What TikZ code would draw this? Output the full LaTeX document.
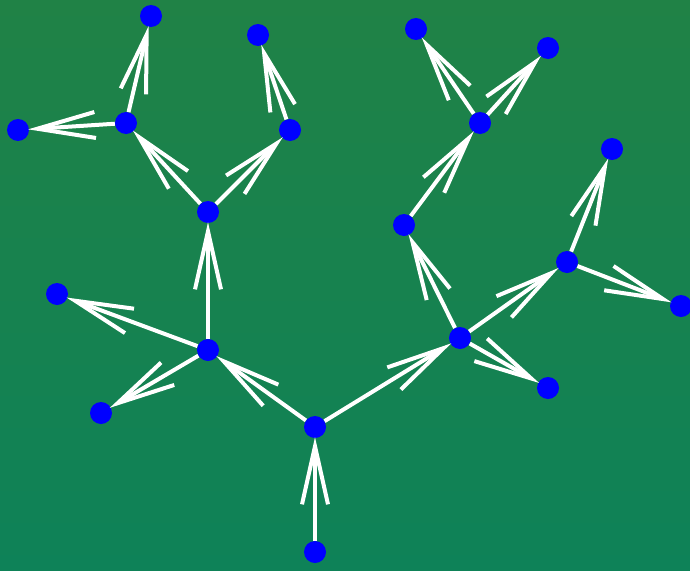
\documentclass[tikz,border=0pt]{standalone}
\usetikzlibrary{arrows.meta}
\definecolor{bgtop}{RGB}{32,130,70}
\definecolor{bgbot}{RGB}{14,130,88}
\definecolor{dotblue}{RGB}{0,0,255}
\begin{document}
\begin{tikzpicture}[x=1pt,y=-1pt,
  dot/.style={circle,fill=dotblue,inner sep=0pt,minimum size=22pt},
  edge/.style={draw=white,line width=4pt,-{Straight Barb[length=58pt,width=26pt,line width=4pt]},shorten >=-1pt}]
\fill[top color=bgtop,bottom color=bgbot] (0,0) rectangle (690,570);
\useasboundingbox (0,0) rectangle (690,570);
\node[dot] (r) at (315,552) {};
\node[dot] (A) at (315,427) {};
\node[dot] (B) at (208,350) {};
\node[dot] (C) at (208,212) {};
\node[dot] (D) at (126,123) {};
\node[dot] (E) at (151,16) {};
\node[dot] (F) at (18,130) {};
\node[dot] (G) at (290,130) {};
\node[dot] (H) at (258,35) {};
\node[dot] (I) at (57,294) {};
\node[dot] (J) at (101,413) {};
\node[dot] (K) at (460,338) {};
\node[dot] (L) at (404,225) {};
\node[dot] (M) at (480,123) {};
\node[dot] (N) at (416,29) {};
\node[dot] (O) at (548,48) {};
\node[dot] (P) at (567,262) {};
\node[dot] (Q) at (612,149) {};
\node[dot] (R) at (681,306) {};
\node[dot] (S) at (548,388) {};
\foreach \u/\v in {r/A,A/B,B/C,C/D,D/E,D/F,C/G,G/H,B/I,B/J,A/K,K/L,L/M,M/N,M/O,K/P,P/Q,P/R,K/S}
  \draw[edge] (\u) -- (\v);
\end{tikzpicture}
\end{document}
